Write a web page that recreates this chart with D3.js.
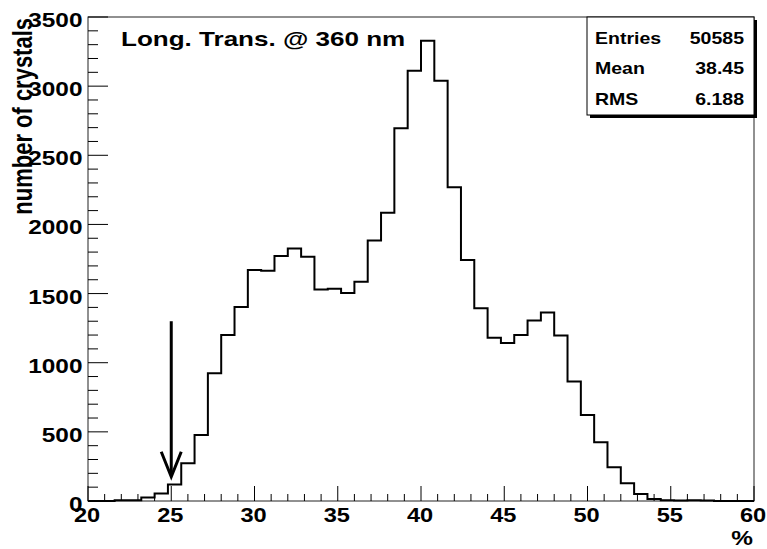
<!DOCTYPE html>
<html>
<head>
<meta charset="utf-8">
<script src="https://cdnjs.cloudflare.com/ajax/libs/d3/7.8.5/d3.min.js"></script>
<style>
  body { margin: 0; background: #fff; }
  svg text { font-family: "Liberation Sans", Arial, Helvetica, sans-serif; font-weight: bold; }
</style>
</head>
<body>
<div class="bigvis"></div>
<script>
var width = 767
var height = 549
var margin = {top: 17, right: 13, bottom: 48, left: 88}
var stretch = 1.22   // the original text is drawn a bit wide

// histogram: 50 bins of 0.8 % from 20 to 60
var binStart = 20
var binWidth = 0.8
var counts = [0, 0, 5, 5, 25, 54, 119, 273, 478, 924,
              1201, 1402, 1670, 1665, 1771, 1826, 1766, 1530, 1534, 1505,
              1585, 1884, 2084, 2695, 3112, 3329, 3039, 2268, 1742, 1394,
              1180, 1143, 1201, 1305, 1363, 1197, 864, 622, 425, 244,
              128, 51, 14, 5, 3, 5, 3, 0, 0, 0]
var xTicks = [20, 25, 30, 35, 40, 45, 50, 55, 60]
var yTicks = [0, 500, 1000, 1500, 2000, 2500, 3000, 3500]
var statsLabels = ["Entries", "Mean", "RMS"]
var statsValues = ["50585", "38.45", "6.188"]
var title = "Long. Trans. @ 360 nm"
var arrowAt = 25
var arrowFrom = 1300
var arrowTo = 175

var svg = d3.select(".bigvis").append("svg")
    .attr("width", width)
    .attr("height", height)

var x = d3.scaleLinear().domain([20, 60]).range([margin.left, width - margin.right])
var y = d3.scaleLinear().domain([0, 3500]).range([height - margin.bottom, margin.top])

function wideText(px, py, s){
  return "translate(" + px + "," + py + ") scale(" + s + ",1)"
}

// frame
svg.append("rect")
    .attr("x", x(20)).attr("y", y(3500))
    .attr("width", x(60) - x(20)).attr("height", y(0) - y(3500))
    .attr("fill", "none").attr("stroke", "#222").attr("stroke-width", 1)

// minor + major ticks
var xMinor = d3.range(20, 60.01, 1)
svg.selectAll(".xtick").data(xMinor).enter().append("line")
    .attr("x1", function(d){ return x(d) }).attr("x2", function(d){ return x(d) })
    .attr("y1", y(0))
    .attr("y2", function(d){ return y(0) - (d % 5 == 0 ? 15 : 7) })
    .attr("stroke", "#000").attr("stroke-width", 1)

var yMinor = d3.range(0, 3500.1, 100)
svg.selectAll(".ytick").data(yMinor).enter().append("line")
    .attr("y1", function(d){ return y(d) }).attr("y2", function(d){ return y(d) })
    .attr("x1", x(20))
    .attr("x2", function(d){ return x(20) + (d % 500 == 0 ? 20 : 10) })
    .attr("stroke", "#000").attr("stroke-width", 1)

// tick labels
svg.selectAll(".xlab").data(xTicks).enter().append("text")
    .attr("transform", function(d){ return wideText(x(d) - 1, y(0) + 20.5, 1.18) })
    .attr("text-anchor", "middle")
    .attr("font-size", 20)
    .text(function(d){ return d })

svg.selectAll(".ylab").data(yTicks).enter().append("text")
    .attr("transform", function(d){ return wideText(x(20) - 5.5, y(d) + 10, stretch) })
    .attr("text-anchor", "end")
    .attr("font-size", 20)
    .text(function(d){ return d })

// axis titles
svg.append("text")
    .attr("transform", "translate(32," + (y(3500) + 1) + ") scale(" + stretch + ",1) rotate(-90)")
    .attr("text-anchor", "end")
    .attr("font-size", 22)
    .text("number of crystals")

svg.append("text")
    .attr("transform", wideText(x(60) - 1, 545, stretch))
    .attr("text-anchor", "end")
    .attr("font-size", 20)
    .text("%")

// histogram outline
var pts = []
pts.push([x(binStart), y(0)])
counts.forEach(function(c, i){
  var lo = binStart + i * binWidth
  pts.push([x(lo), y(c)])
  pts.push([x(lo + binWidth), y(c)])
})
svg.append("path")
    .attr("d", d3.line()(pts))
    .attr("fill", "none").attr("stroke", "#000").attr("stroke-width", 2)

// arrow
svg.append("line")
    .attr("x1", x(arrowAt)).attr("x2", x(arrowAt))
    .attr("y1", y(arrowFrom)).attr("y2", y(arrowTo) - 2)
    .attr("stroke", "#000").attr("stroke-width", 3)
svg.append("path")
    .attr("d", d3.line()([[x(arrowAt) - 10, y(arrowTo) - 25], [x(arrowAt), y(arrowTo)], [x(arrowAt) + 10, y(arrowTo) - 25]]))
    .attr("fill", "none").attr("stroke", "#000").attr("stroke-width", 3)

// title
svg.append("text")
    .attr("transform", wideText(121, 46, 1.27))
    .attr("font-size", 20.5)
    .text(title)

// stats box
var bx = 587, by = 17, bw = x(60) - 587, bh = 98
svg.append("rect").attr("x", bx + 3).attr("y", by + 3).attr("width", bw).attr("height", bh).attr("fill", "#000")
svg.append("rect").attr("x", bx).attr("y", by).attr("width", bw).attr("height", bh)
    .attr("fill", "#fff").attr("stroke", "#000").attr("stroke-width", 1)
statsLabels.forEach(function(l, i){
  svg.append("text").attr("transform", wideText(bx + 8, by + 26.5 + i * 30.5, stretch))
      .attr("font-size", 16).text(l)
  svg.append("text").attr("transform", wideText(744, by + 26.5 + i * 30.5, stretch))
      .attr("text-anchor", "end").attr("font-size", 16).text(statsValues[i])
})
</script>
</body>
</html>
